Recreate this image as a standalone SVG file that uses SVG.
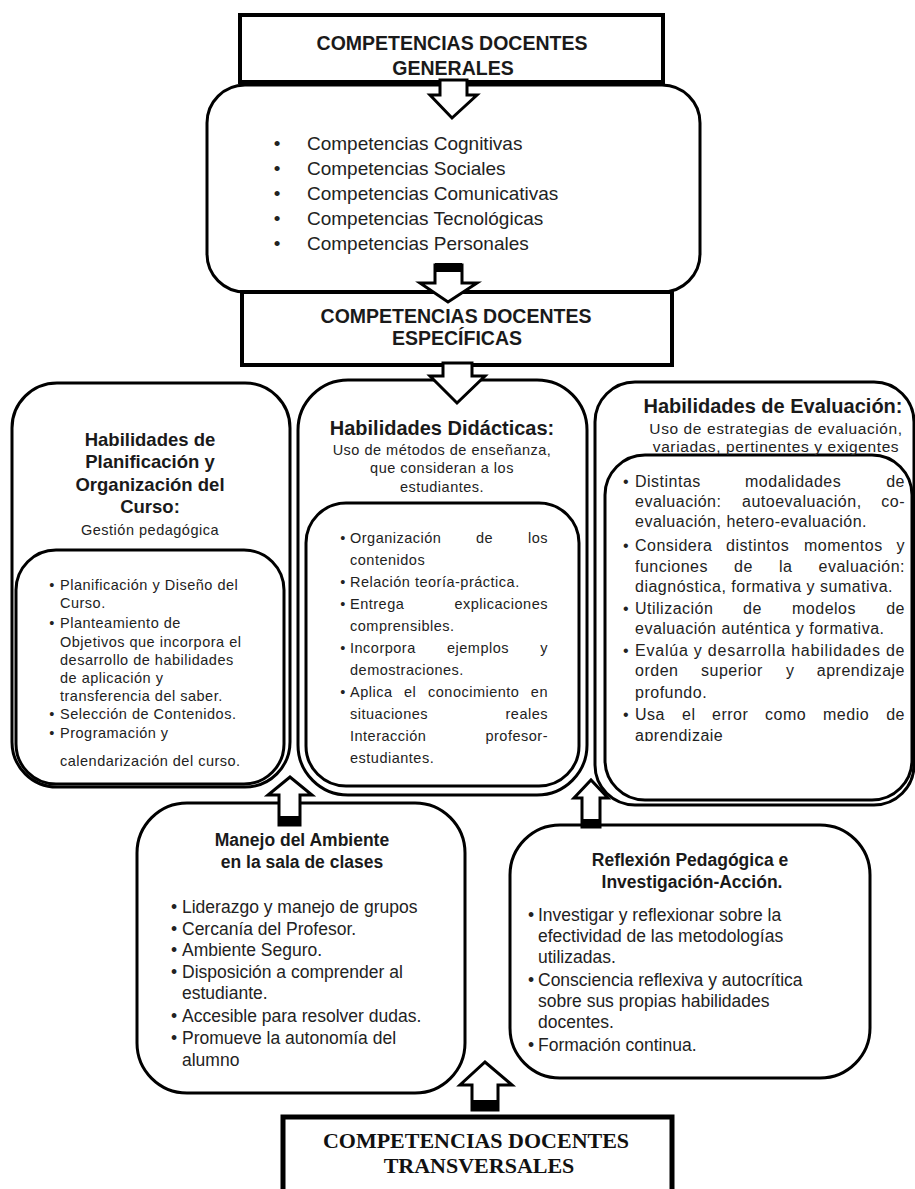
<svg xmlns="http://www.w3.org/2000/svg" width="915" height="1189" viewBox="0 0 915 1189">
<style>
.bg{fill:#fff}
.box{fill:#fff;stroke:#000;stroke-width:3}
.inner{fill:none;stroke:#000;stroke-width:3}
.rect4{fill:#fff;stroke:#000;stroke-width:4}
.rect5{fill:#fff;stroke:#000;stroke-width:5}
.arrow{fill:#fff;stroke:#000;stroke-width:3;stroke-linejoin:miter}
.cap{fill:#000}
text{font-family:"Liberation Sans",Arial,sans-serif;fill:#222}
.h1{font-weight:bold;font-size:19.5px;text-anchor:middle;fill:#1a1a1a}
.hs{font-family:"Liberation Serif","Times New Roman",serif;font-weight:bold;font-size:22px;text-anchor:middle;fill:#111}
.gen{font-size:19px}
.t3{font-weight:bold;font-size:18.5px;text-anchor:middle;fill:#1a1a1a}
.t2{font-weight:bold;font-size:20px;text-anchor:middle;fill:#1a1a1a}
.sub{font-size:14.5px;letter-spacing:0.5px;text-anchor:middle}
.subr{font-size:15.5px;letter-spacing:0.6px;text-anchor:middle}
.s{font-size:14.5px;letter-spacing:0.5px}
.r{font-size:16px;letter-spacing:0.5px}
.b{font-size:17.5px}
.bt{font-weight:bold;font-size:17.5px;text-anchor:middle;fill:#1a1a1a}
.m{text-anchor:middle}
.e{text-anchor:end}
</style>
<defs>
<clipPath id="clipApr"><rect x="600" y="700" width="315" height="41"/></clipPath>
</defs>
<rect class="bg" x="0" y="0" width="915" height="1189"/>

<g id="node-generales-box">
<rect class="box" x="207" y="85" width="493" height="207" rx="38" ry="38"/>
<text class="gen m" x="277" y="150">•</text>
<text class="gen" x="307" y="150">Competencias Cognitivas</text>
<text class="gen m" x="277" y="175">•</text>
<text class="gen" x="307" y="175">Competencias Sociales</text>
<text class="gen m" x="277" y="200">•</text>
<text class="gen" x="307" y="200">Competencias Comunicativas</text>
<text class="gen m" x="277" y="225">•</text>
<text class="gen" x="307" y="225">Competencias Tecnológicas</text>
<text class="gen m" x="277" y="250">•</text>
<text class="gen" x="307" y="250">Competencias Personales</text>
</g>

<g id="node-generales">
<rect class="rect4" x="240" y="15" width="423" height="67"/>
<text class="h1" x="452" y="50">COMPETENCIAS DOCENTES</text>
<text class="h1" x="453" y="75">GENERALES</text>
</g>

<g id="node-especificas">
<rect class="rect4" x="242" y="292" width="430" height="73"/>
<text class="h1" x="456" y="323">COMPETENCIAS DOCENTES</text>
<text class="h1" x="457" y="345">ESPECÍFICAS</text>
</g>

<g id="node-planificacion">
<rect class="box" x="12" y="383" width="278" height="404" rx="45" ry="45"/>
<rect class="inner" x="16" y="550" width="268" height="234" rx="40" ry="40"/>
<text class="t3" x="150" y="446">Habilidades de</text>
<text class="t3" x="150" y="468">Planificación y</text>
<text class="t3" x="150" y="491">Organización del</text>
<text class="t3" x="150" y="513">Curso:</text>
<text class="sub" x="150" y="535">Gestión pedagógica</text>
<text class="s m" x="52" y="590">•</text>
<text class="s" x="60" y="590">Planificación y Diseño del</text>
<text class="s" x="60" y="608">Curso.</text>
<text class="s m" x="52" y="628">•</text>
<text class="s" x="60" y="628">Planteamiento de</text>
<text class="s" x="60" y="647">Objetivos que incorpora el</text>
<text class="s" x="60" y="665">desarrollo de habilidades</text>
<text class="s" x="60" y="683">de aplicación y</text>
<text class="s" x="60" y="701">transferencia del saber.</text>
<text class="s m" x="52" y="719">•</text>
<text class="s" x="60" y="719">Selección de Contenidos.</text>
<text class="s m" x="52" y="738">•</text>
<text class="s" x="60" y="738">Programación y</text>
<text class="s" x="60" y="766">calendarización del curso.</text>
</g>

<g id="node-didacticas">
<rect class="box" x="298" y="380" width="289" height="415" rx="50" ry="50"/>
<rect class="inner" x="306" y="503" width="273" height="283" rx="40" ry="40"/>
<text class="t2" x="442" y="435">Habilidades Didácticas:</text>
<text class="sub" x="442" y="455">Uso de métodos de enseñanza,</text>
<text class="sub" x="442" y="473">que consideran a los</text>
<text class="sub" x="442" y="492">estudiantes.</text>
<text class="s m" x="343" y="543">•</text>
<text class="s" x="350" y="543">Organización</text>
<text class="s" x="476" y="543">de</text>
<text class="s e" x="548" y="543">los</text>
<text class="s" x="350" y="565">contenidos</text>
<text class="s m" x="343" y="587">•</text>
<text class="s" x="350" y="587">Relación teoría-práctica.</text>
<text class="s m" x="343" y="609">•</text>
<text class="s" x="350" y="609">Entrega</text>
<text class="s e" x="548" y="609">explicaciones</text>
<text class="s" x="350" y="631">comprensibles.</text>
<text class="s m" x="343" y="653">•</text>
<text class="s" x="350" y="653">Incorpora</text>
<text class="s" x="447" y="653">ejemplos</text>
<text class="s e" x="548" y="653">y</text>
<text class="s" x="350" y="675">demostraciones.</text>
<text class="s m" x="343" y="697">•</text>
<text class="s" x="350" y="697">Aplica</text>
<text class="s" x="404" y="697">el</text>
<text class="s" x="428" y="697">conocimiento</text>
<text class="s e" x="548" y="697">en</text>
<text class="s" x="350" y="719">situaciones</text>
<text class="s e" x="548" y="719">reales</text>
<text class="s" x="350" y="741">Interacción</text>
<text class="s e" x="548" y="741">profesor-</text>
<text class="s" x="350" y="763">estudiantes.</text>
</g>

<g id="node-evaluacion">
<rect class="box" x="595" y="382" width="319" height="423" rx="40" ry="40"/>
<rect class="inner" x="605" y="455" width="307" height="345" rx="40" ry="40"/>
<text class="t2" x="773" y="413">Habilidades de Evaluación:</text>
<text class="subr" x="776" y="434">Uso de estrategias de evaluación,</text>
<text class="subr" x="776" y="452">variadas, pertinentes y exigentes</text>
<text class="r m" x="626" y="487">•</text>
<text class="r" x="635" y="487">Distintas</text>
<text class="r" x="745" y="487">modalidades</text>
<text class="r e" x="905" y="487">de</text>
<text class="r" x="635" y="507">evaluación:</text>
<text class="r" x="742" y="507">autoevaluación,</text>
<text class="r e" x="905" y="507">co-</text>
<text class="r" x="635" y="527">evaluación, hetero-evaluación.</text>
<text class="r m" x="626" y="551">•</text>
<text class="r" x="635" y="551">Considera</text>
<text class="r" x="726" y="551">distintos</text>
<text class="r" x="804" y="551">momentos</text>
<text class="r e" x="905" y="551">y</text>
<text class="r" x="635" y="572">funciones</text>
<text class="r" x="734" y="572">de</text>
<text class="r" x="779" y="572">la</text>
<text class="r e" x="905" y="572">evaluación:</text>
<text class="r" x="635" y="592">diagnóstica, formativa y sumativa.</text>
<text class="r m" x="626" y="614">•</text>
<text class="r" x="635" y="614">Utilización</text>
<text class="r" x="743" y="614">de</text>
<text class="r" x="792" y="614">modelos</text>
<text class="r e" x="905" y="614">de</text>
<text class="r" x="635" y="634">evaluación auténtica y formativa.</text>
<text class="r m" x="626" y="656">•</text>
<text class="r" x="635" y="656" textLength="270" lengthAdjust="spacing">Evalúa y desarrolla habilidades de</text>
<text class="r" x="635" y="676">orden</text>
<text class="r" x="701" y="676">superior</text>
<text class="r" x="786" y="676">y</text>
<text class="r e" x="905" y="676">aprendizaje</text>
<text class="r" x="635" y="698">profundo.</text>
<text class="r m" x="626" y="720">•</text>
<text class="r" x="635" y="720">Usa</text>
<text class="r" x="682" y="720">el</text>
<text class="r" x="712" y="720">error</text>
<text class="r" x="765" y="720">como</text>
<text class="r" x="823" y="720">medio</text>
<text class="r e" x="905" y="720">de</text>
<text class="r" x="635" y="741" clip-path="url(#clipApr)">aprendizaje</text>
</g>

<g id="node-manejo">
<rect class="box" x="137" y="803" width="328" height="290" rx="50" ry="50"/>
<text class="bt" x="302" y="846">Manejo del Ambiente</text>
<text class="bt" x="302" y="868">en la sala de clases</text>
<text class="b m" x="174" y="913">•</text>
<text class="b" x="182" y="913">Liderazgo y manejo de grupos</text>
<text class="b m" x="174" y="935">•</text>
<text class="b" x="182" y="935">Cercanía del Profesor.</text>
<text class="b m" x="174" y="956">•</text>
<text class="b" x="182" y="956">Ambiente Seguro.</text>
<text class="b m" x="174" y="978">•</text>
<text class="b" x="182" y="978">Disposición a comprender al</text>
<text class="b" x="182" y="999">estudiante.</text>
<text class="b m" x="174" y="1022">•</text>
<text class="b" x="182" y="1022">Accesible para resolver dudas.</text>
<text class="b m" x="174" y="1044">•</text>
<text class="b" x="182" y="1044">Promueve la autonomía del</text>
<text class="b" x="182" y="1066">alumno</text>
</g>

<g id="node-reflexion">
<rect class="box" x="510" y="825" width="360" height="253" rx="50" ry="50"/>
<text class="bt" x="690" y="866">Reflexión Pedagógica e</text>
<text class="bt" x="692" y="888">Investigación-Acción.</text>
<text class="b m" x="531" y="921">•</text>
<text class="b" x="538" y="921">Investigar y reflexionar sobre la</text>
<text class="b" x="538" y="942">efectividad de las metodologías</text>
<text class="b" x="538" y="963">utilizadas.</text>
<text class="b m" x="531" y="986">•</text>
<text class="b" x="538" y="986">Consciencia reflexiva y autocrítica</text>
<text class="b" x="538" y="1007">sobre sus propias habilidades</text>
<text class="b" x="538" y="1028">docentes.</text>
<text class="b m" x="531" y="1051">•</text>
<text class="b" x="538" y="1051">Formación continua.</text>
</g>

<g id="node-transversales">
<rect class="rect5" x="283" y="1117" width="389" height="85"/>
<text class="hs" x="476" y="1148">COMPETENCIAS DOCENTES</text>
<text class="hs" x="479" y="1173">TRANSVERSALES</text>
</g>

<g id="connectors">
<path class="arrow" d="M440,80 V95 H430 L452,118 L477,95 H467 V80 Z"/>
<path class="arrow" d="M435,265 V283 H420 L448,302 L477,283 H462 V265 Z"/>
<rect class="cap" x="435" y="263" width="27" height="9"/>
<path class="arrow" d="M443,363 V376 H430 L457,403 L485,376 H472 V363 Z"/>
<path class="arrow" d="M279,825 V795 H268 L290,777 L312,795 H300 V825 Z"/>
<rect class="cap" x="279" y="816" width="21" height="10"/>
<path class="arrow" d="M582,827 V798 H574 L591,780 L608,798 H600 V827 Z"/>
<rect class="cap" x="582" y="819" width="18" height="9"/>
<path class="arrow" d="M472,1110 V1085 H460 L485,1062 L512,1085 H498 V1110 Z"/>
<rect class="cap" x="472" y="1100" width="26" height="11"/>
</g>
</svg>
